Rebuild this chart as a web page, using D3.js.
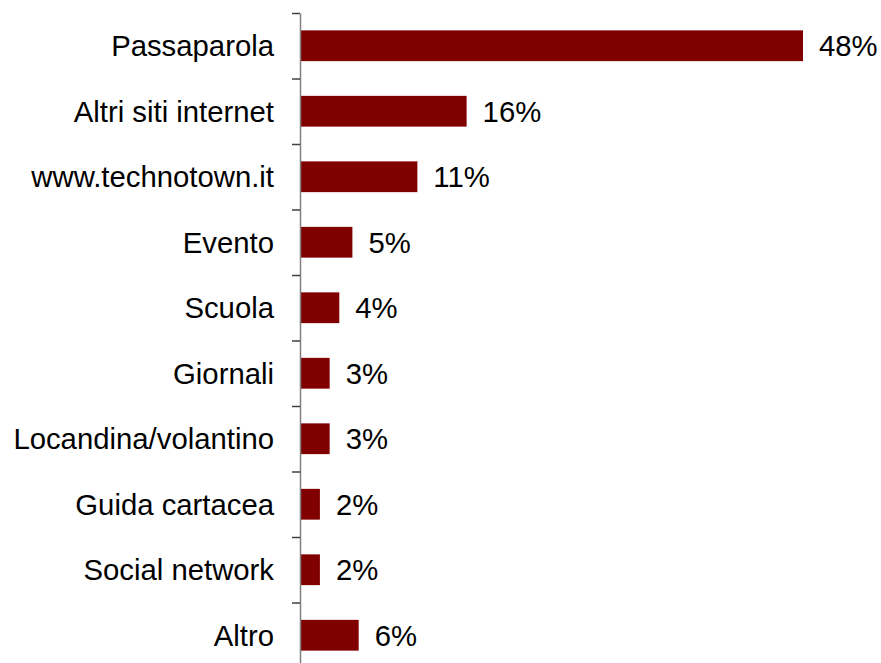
<html>
<head>
<script src="https://d3js.org/d3.v7.min.js"></script>
<style>
  body { margin: 0; background: #fff; }
  text { font-family: Arial, "Liberation Sans", sans-serif; fill: #000; }
</style>
</head>
<body onload="init()">
<svg width="881" height="663"></svg>
<script>
// chart data
var categories = ["Passaparola", "Altri siti internet", "www.technotown.it", "Evento", "Scuola",
                  "Giornali", "Locandina/volantino", "Guida cartacea", "Social network", "Altro"];
var values = [48, 15.9, 11.2, 5.0, 3.75, 2.83, 2.83, 1.9, 1.9, 5.6];
var valueLabels = ["48%", "16%", "11%", "5%", "4%", "3%", "3%", "2%", "2%", "6%"];

function init() {
  var svg = d3.select("svg");
  var x0 = 300, top = 13, band = 65.5;

  var x = d3.scaleLinear().domain([0, 48]).range([x0, 803]);
  var y = d3.scaleBand().domain(categories)
    .range([top, top + band * categories.length])
    .paddingInner(0.53).paddingOuter(0.265);

  // bars
  svg.append("g").selectAll("rect")
    .data(categories)
    .enter().append("rect")
    .attr("x", x(0))
    .attr("y", function(d) { return y(d); })
    .attr("width", function(d, i) { return x(values[i]) - x(0); })
    .attr("height", y.bandwidth())
    .attr("fill", "#800000");

  // axis with ticks at band boundaries
  var yIdx = d3.scaleLinear().domain([0, categories.length]).range([top, top + band * categories.length]);
  var ax = svg.append("g")
    .attr("transform", "translate(" + x0 + ",0)")
    .call(d3.axisLeft(yIdx).tickValues(d3.range(0, categories.length))
      .tickSize(8).tickSizeOuter(0).tickFormat(""));
  ax.select(".domain").attr("stroke", "#808080").attr("stroke-width", 1.5);
  ax.selectAll(".tick line").attr("stroke", "#404040").attr("stroke-width", 1.5);

  // category labels
  svg.append("g").selectAll("text")
    .data(categories)
    .enter().append("text")
    .attr("x", 274)
    .attr("y", function(d) { return y(d) + y.bandwidth() / 2; })
    .attr("dy", "0.36em")
    .attr("text-anchor", "end")
    .style("font-size", "29.3px")
    .text(function(d) { return d; });

  // value labels
  svg.append("g").selectAll("text")
    .data(categories)
    .enter().append("text")
    .attr("x", function(d, i) { return x(values[i]) + 16; })
    .attr("y", function(d) { return y(d) + y.bandwidth() / 2; })
    .attr("dy", "0.36em")
    .style("font-size", "29.3px")
    .text(function(d, i) { return valueLabels[i]; });
}
</script>
</body>
</html>
